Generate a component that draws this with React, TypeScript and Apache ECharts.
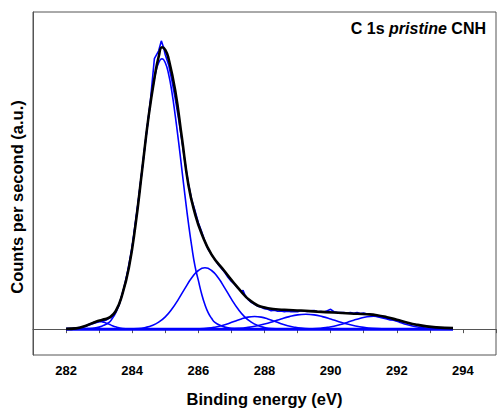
import React, { useEffect, useRef } from "react";
import * as echarts from "echarts";

const FONT = '"Liberation Sans", Arial, Helvetica, sans-serif';

// x tick values (eV) and labels
const xMin = 281;
const xMax = 295;
const xLabelValues = [282, 284, 286, 288, 290, 292, 294];

// Horizontal background line
const baseline: [number, number][] = [
  [282.0, 0],
  [293.7, 0],
];

// Small component near 283 eV
const compSmall: [number, number][] = [
  [282.0, 0], [282.2, 0.3], [282.4, 1.3], [282.5, 2.3], [282.6, 3.5], [282.7, 5.0],
  [282.8, 6.3], [282.9, 7.3], [283.0, 7.7], [283.1, 7.3], [283.2, 6.3], [283.3, 5.0],
  [283.4, 3.5], [283.5, 2.3], [283.6, 1.3], [283.8, 0.3], [284.0, 0],
];

// Main sp2 component ~284.9 eV
const compMain: [number, number][] = [
  [282.3, 0], [282.6, 0.5], [282.9, 1.4], [283.1, 3.3], [283.3, 6.8], [283.4, 10.9],
  [283.5, 16.3], [283.6, 24.5], [283.7, 35.4], [283.8, 49], [283.9, 63.1], [284.0, 83.2],
  [284.1, 106.6], [284.2, 133], [284.3, 161], [284.4, 189], [284.5, 215], [284.6, 238.5],
  [284.7, 256.5], [284.8, 268], [284.9, 272], [285.0, 268], [285.1, 256.5], [285.2, 238.5],
  [285.3, 215], [285.4, 189], [285.5, 161], [285.6, 133], [285.7, 106.6], [285.8, 83.2],
  [285.9, 63.1], [286.0, 49], [286.1, 35.4], [286.2, 24.5], [286.3, 16.3], [286.4, 10.9],
  [286.5, 6.8], [286.7, 3.3], [286.9, 1.4], [287.2, 0.5], [287.5, 0],
];

// Component ~286.2 eV
const comp286: [number, number][] = [
  [283.6, 0], [284.2, 0.7], [284.4, 1.7], [284.6, 3.6], [284.8, 7.0], [285.0, 12.4],
  [285.2, 20.2], [285.4, 30.2], [285.6, 41.3], [285.8, 51.6], [286.0, 59], [286.2, 61.7],
  [286.4, 59], [286.6, 51.6], [286.8, 41.3], [287.0, 30.2], [287.2, 20.2], [287.4, 12.4],
  [287.6, 7.0], [287.8, 3.6], [288.0, 1.7], [288.2, 0.7], [288.8, 0],
];

// Component ~287.7 eV
const comp287: [number, number][] = [
  [285.4, 0], [285.7, 0.07], [286.0, 0.3], [286.3, 1.0], [286.5, 2.0], [286.7, 3.5],
  [286.9, 5.5], [287.1, 8.0], [287.3, 10.3], [287.5, 12.1], [287.7, 12.7], [287.9, 12.1],
  [288.1, 10.3], [288.3, 8.0], [288.5, 5.5], [288.7, 3.5], [288.9, 2.0], [289.1, 1.0],
  [289.4, 0.3], [289.7, 0.07], [290.0, 0],
];

// Component ~289.25 eV
const comp289: [number, number][] = [
  [286.05, 0], [286.45, 0.07], [286.85, 0.3], [287.25, 0.9], [287.5, 1.8], [287.75, 3.2],
  [288.0, 5.1], [288.25, 7.5], [288.5, 10.2], [288.75, 12.6], [289.0, 14.4], [289.25, 15],
  [289.5, 14.4], [289.75, 12.6], [290.0, 10.2], [290.25, 7.5], [290.5, 5.1], [290.75, 3.2],
  [291.0, 1.8], [291.25, 0.9], [291.65, 0.3], [292.05, 0.07], [292.45, 0],
];

// Component ~291.3 eV
const comp291: [number, number][] = [
  [288.8, 0], [289.1, 0.09], [289.4, 0.33], [289.7, 0.95], [289.9, 1.8], [290.1, 3.0],
  [290.3, 4.7], [290.5, 6.8], [290.7, 9.0], [290.9, 11.0], [291.1, 12.5], [291.3, 13],
  [291.5, 12.5], [291.7, 11.0], [291.9, 9.0], [292.1, 6.8], [292.3, 4.7], [292.5, 3.0],
  [292.7, 1.8], [292.9, 0.95], [293.2, 0.33], [293.5, 0.09], [293.7, 0],
];

// Measured spectrum (noisy)
const rawData: [number, number][] = [
  [282.0, 0.5], [282.2, 0.8], [282.4, 1.5], [282.6, 3], [282.8, 5.5], [283.0, 7.5],
  [283.2, 9], [283.4, 13], [283.6, 24], [283.8, 47], [284.0, 83], [284.2, 133],
  [284.4, 188], [284.55, 230], [284.67, 272], [284.8, 280], [284.88, 290], [284.95, 283],
  [285.0, 276], [285.1, 266], [285.2, 250], [285.3, 232], [285.4, 212], [285.5, 190],
  [285.6, 167], [285.7, 146], [285.8, 130], [285.9, 119], [286.0, 107], [286.1, 98],
  [286.2, 88], [286.25, 84], [286.3, 80], [286.4, 75], [286.5, 70], [286.6, 65],
  [286.7, 61], [286.8, 57], [286.9, 52], [287.0, 48], [287.1, 45], [287.2, 41],
  [287.3, 38], [287.35, 39], [287.4, 35], [287.5, 30], [287.6, 27], [287.7, 25],
  [287.8, 23], [287.9, 22], [288.0, 20.5], [288.1, 20], [288.2, 18.5], [288.3, 19],
  [288.4, 18], [288.5, 18.3], [288.6, 17.5], [288.7, 18], [288.8, 17.6], [288.9, 17.8],
  [289.0, 17.5], [289.1, 18.5], [289.2, 18], [289.3, 17.7], [289.4, 18.5], [289.5, 18.7],
  [289.6, 17.5], [289.7, 17.8], [289.8, 17.3], [289.9, 18.5], [290.0, 20], [290.1, 17.5],
  [290.2, 17], [290.3, 16.8], [290.4, 16.7], [290.5, 16.3], [290.6, 16.8], [290.7, 16],
  [290.8, 16.7], [290.9, 15.8], [291.0, 16.2], [291.1, 15.3], [291.2, 15], [291.3, 13.5],
  [291.4, 12.7], [291.5, 11.8], [291.6, 11], [291.7, 10.2], [291.8, 9.3], [291.9, 9.5],
  [292.0, 8.5], [292.1, 8], [292.2, 7], [292.3, 6.7], [292.4, 5.5], [292.5, 5],
  [292.6, 4.3], [292.7, 3.5], [292.8, 3.2], [292.9, 2.7], [293.0, 2.2], [293.2, 1.5],
  [293.4, 0.8], [293.6, 0.2], [293.7, 0],
];

// Fitted envelope (black)
const fitEnvelope: [number, number][] = [
  [282.0, 0.3], [282.3, 0.8], [282.6, 3.5], [282.9, 7.5], [283.1, 9.5], [283.3, 11.5],
  [283.5, 18], [283.7, 35], [283.9, 62], [284.1, 105], [284.3, 160], [284.5, 215],
  [284.7, 258], [284.8, 274], [284.9, 283.5], [285.0, 281], [285.1, 272], [285.3, 240],
  [285.5, 193], [285.7, 145], [285.9, 116], [286.1, 96], [286.4, 75], [286.8, 58],
  [287.2, 41.5], [287.6, 28], [288.1, 21], [288.6, 19.5], [289.1, 18.7], [289.6, 17.6],
  [290.1, 16.7], [290.6, 15.8], [291.1, 15], [291.4, 14], [291.7, 12], [292.0, 9.5],
  [292.3, 6.8], [292.6, 4.5], [292.9, 2.8], [293.2, 1.8], [293.7, 1.0],
];

const BLUE = "#0000ff";
const FRAME = "#555555";

export default function App() {
  const ref = useRef<HTMLDivElement>(null);

  useEffect(() => {
    if (!ref.current) return;
    const chart = echarts.init(ref.current, undefined, { renderer: "svg" });

    const blueLine = (name: string, data: [number, number][], width = 1.6, smooth: boolean | number = true) => ({
      name,
      type: "line",
      data,
      smooth,
      showSymbol: false,
      symbol: "none",
      lineStyle: { color: BLUE, width },
      itemStyle: { color: BLUE },
      z: 2,
    });

    chart.setOption({
      animation: false,
      backgroundColor: "#ffffff",
      title: {
        text: "{a|C 1s }{b|pristine}{a| CNH}",
        right: 13,
        top: 20,
        padding: 0,
        textStyle: {
          rich: {
            a: { fontFamily: FONT, fontWeight: "bold", fontSize: 16, color: "#000" },
            b: { fontFamily: FONT, fontWeight: "bold", fontStyle: "italic", fontSize: 16, color: "#000" },
          },
        },
      },
      grid: {
        left: 33,
        right: 3,
        top: 12,
        bottom: 55,
        show: true,
        borderColor: FRAME,
        borderWidth: 1,
        containLabel: false,
      },
      graphic: [
        {
          type: "text",
          x: 17,
          y: 197,
          rotation: Math.PI / 2,
          style: {
            text: "Counts per second (a.u.)",
            fontFamily: FONT,
            fontWeight: "bold",
            fontSize: 16.5,
            fill: "#000",
            align: "center",
            verticalAlign: "middle",
          },
        },
      ],
      xAxis: {
        type: "value",
        min: xMin,
        max: xMax,
        interval: 1,
        name: "Binding energy (eV)",
        nameLocation: "middle",
        nameGap: 35,
        nameTextStyle: { fontFamily: FONT, fontWeight: "bold", fontSize: 16.5, color: "#000" },
        axisLine: { show: true, lineStyle: { color: FRAME, width: 1 } },
        axisTick: { show: true, inside: false, length: 4, lineStyle: { color: FRAME, width: 1 } },
        axisLabel: {
          margin: 9,
          fontFamily: FONT,
          fontWeight: "bold",
          fontSize: 13,
          color: "#000",
          formatter: (v: number) => (xLabelValues.includes(Math.round(v)) ? String(Math.round(v)) : ""),
        },
        splitLine: { show: false },
      },
      yAxis: {
        type: "value",
        min: -26,
        max: 319,
        axisLine: { show: true, lineStyle: { color: FRAME, width: 1 } },
        axisTick: { show: false },
        axisLabel: { show: false },
        splitLine: { show: false },
      },
      series: [
        blueLine("baseline", baseline, 3, false),
        blueLine("comp283", compSmall),
        blueLine("comp285", compMain),
        blueLine("comp286", comp286),
        blueLine("comp287", comp287),
        blueLine("comp289", comp289),
        blueLine("comp291", comp291),
        blueLine("raw", rawData, 1.6, false),
        {
          name: "fit",
          type: "line",
          data: fitEnvelope,
          smooth: true,
          showSymbol: false,
          symbol: "none",
          lineStyle: { color: "#000000", width: 2.6 },
          itemStyle: { color: "#000000" },
          z: 3,
        },
      ],
    });

    return () => chart.dispose();
  }, []);

  return (
    <div
      ref={ref}
      style={{ position: "absolute", left: 0, top: 0, width: 499, height: 412 }}
    />
  );
}
